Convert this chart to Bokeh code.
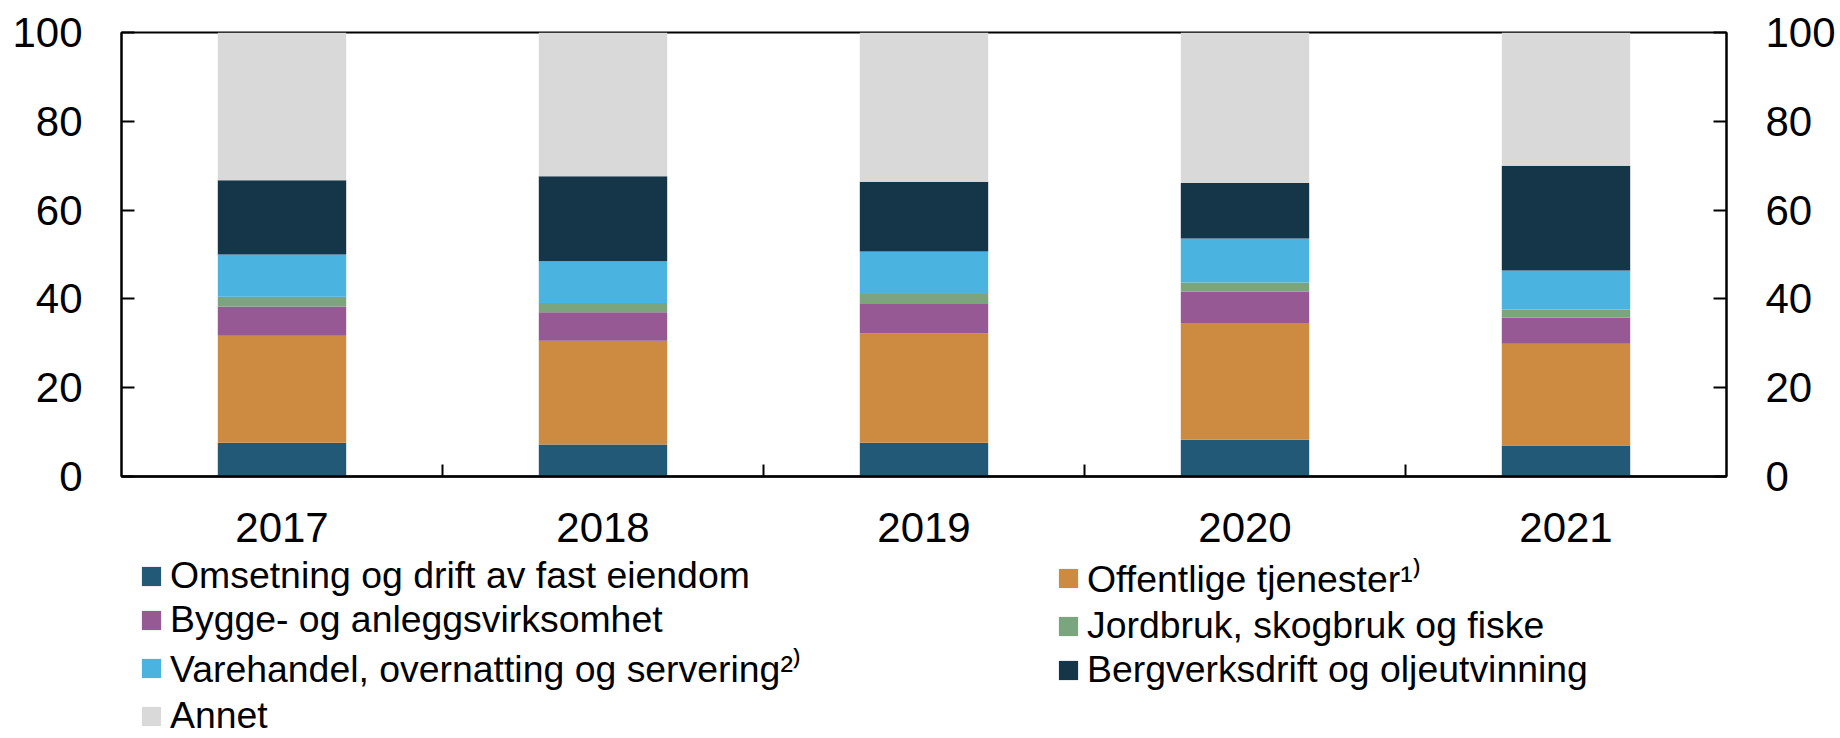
from bokeh.plotting import figure
from bokeh.models import Range1d, LinearAxis, FixedTicker, Legend, LegendItem, ColumnDataSource
from bokeh.layouts import column
from bokeh.embed import file_html
from bokeh.resources import INLINE

years = ["2017", "2018", "2019", "2020", "2021"]
omsetning = [7.6, 7.2, 7.6, 8.3, 7.0]
offentlige = [24.1, 23.4, 24.6, 26.3, 22.9]
bygge = [6.6, 6.4, 6.8, 7.0, 5.9]
jordbruk = [2.2, 2.1, 2.1, 2.1, 1.8]
varehandel = [9.5, 9.4, 9.6, 9.9, 8.8]
bergverk = [16.7, 19.1, 15.7, 12.5, 23.6]
annet = [33.3, 32.4, 33.6, 33.9, 30.0]

keys = ["omsetning", "offentlige", "bygge", "jordbruk", "varehandel", "bergverk", "annet"]
labels = [
    "Omsetning og drift av fast eiendom",
    "Offentlige tjenester\u00b9\u207e",
    "Bygge- og anleggsvirksomhet",
    "Jordbruk, skogbruk og fiske",
    "Varehandel, overnatting og servering\u00b2\u207e",
    "Bergverksdrift og oljeutvinning",
    "Annet",
]
colors = ["#225977", "#cd8b42", "#965993", "#7aa57d", "#4ab3e0", "#153549", "#d9d9d9"]
y_ticks = [0, 20, 40, 60, 80, 100]

FONT = "Liberation Sans"
n = len(years)
xpos = [i + 0.5 for i in range(n)]

source = ColumnDataSource(dict(
    x=xpos, omsetning=omsetning, offentlige=offentlige, bygge=bygge,
    jordbruk=jordbruk, varehandel=varehandel, bergverk=bergverk, annet=annet,
))

W = 1840
H_MAIN = 554
H_LEG = 184

p = figure(width=W, height=H_MAIN, x_range=Range1d(0, n), y_range=Range1d(0, 100),
           output_backend="svg", toolbar_location=None,
           min_border_left=121, min_border_right=114, min_border_top=32, min_border_bottom=78)

rs = p.vbar_stack(keys, x="x", width=0.4, color=colors, line_color=None, source=source)

p.xgrid.visible = False
p.ygrid.visible = False
p.outline_line_color = "black"
p.outline_line_width = 2
p.background_fill_color = "white"
p.border_fill_color = "white"

# x axis
xa = p.xaxis[0]
xa.ticker = FixedTicker(ticks=xpos, minor_ticks=list(range(1, n)))
xa.major_label_overrides = {xpos[i]: years[i] for i in range(n)}
xa.major_tick_line_color = None
xa.minor_tick_in = 12
xa.minor_tick_out = 0
xa.minor_tick_line_width = 2
xa.minor_tick_line_color = "black"
xa.axis_line_width = 2.5
xa.axis_line_color = "black"
xa.major_label_standoff = 30
xa.major_label_text_font = FONT
xa.major_label_text_font_size = "42px"
xa.major_label_text_color = "black"

def style_y(ax):
    ax.ticker = FixedTicker(ticks=y_ticks)
    ax.major_tick_in = 13
    ax.major_tick_out = 0
    ax.minor_tick_line_color = None
    ax.major_tick_line_width = 2
    ax.major_tick_line_color = "black"
    ax.axis_line_width = 2
    ax.axis_line_color = "black"
    ax.major_label_standoff = 39
    ax.major_label_text_font = FONT
    ax.major_label_text_font_size = "42px"
    ax.major_label_text_color = "black"

style_y(p.yaxis[0])
ra = LinearAxis()
style_y(ra)
p.add_layout(ra, "right")

# legend figure (bars drawn out of view; only the legend is visible)
pl = figure(width=W, height=H_LEG, x_range=Range1d(0, n), y_range=Range1d(1000, 1100),
            output_backend="svg", toolbar_location=None,
            x_axis_type=None, y_axis_type=None, min_border=0)
pl.xgrid.visible = False
pl.ygrid.visible = False
pl.outline_line_color = None
pl.background_fill_color = "white"
pl.border_fill_color = "white"
lr = pl.vbar_stack(keys, x="x", width=0.4, color=colors, line_color=None, source=source)

ITEM_H = 45
SP = 1
TOP = 0

def make_legend(idx, x):
    nrow = len(idx)
    hgt = nrow * ITEM_H + (nrow - 1) * SP
    lg = Legend(items=[LegendItem(label=labels[i], renderers=[lr[i]]) for i in idx],
                location=(x, H_LEG - TOP - hgt), orientation="vertical",
                glyph_width=24, glyph_height=24, label_standoff=7, spacing=SP,
                padding=0, margin=0, border_line_color=None, background_fill_alpha=0,
                label_text_font=FONT, label_text_font_size="37.4px", label_text_color="black")
    return lg

pl.add_layout(make_legend([0, 2, 4, 6], 18), "center")
pl.add_layout(make_legend([1, 3, 5], 935), "center")

layout = column(p, pl, spacing=0)
open("out.html", "w").write(file_html(layout, INLINE))
